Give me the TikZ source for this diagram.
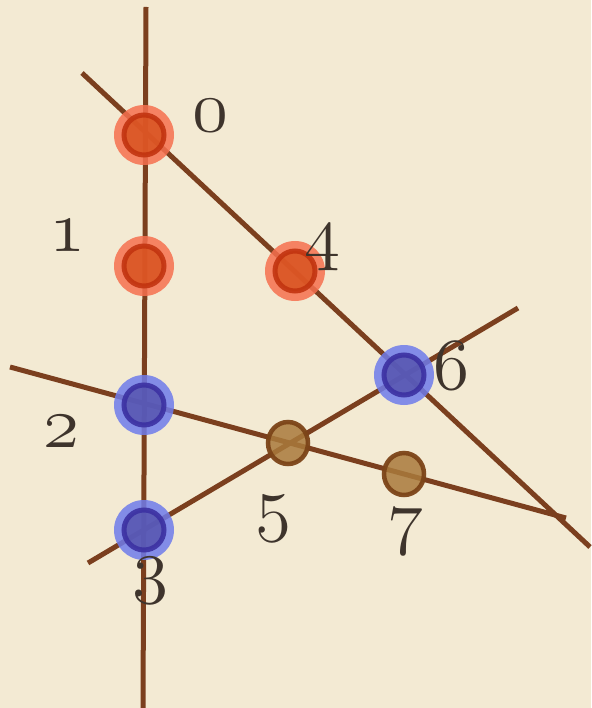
\documentclass[tikz,border=0pt]{standalone}
\usetikzlibrary{shapes.geometric}
\definecolor{paper}{HTML}{F3EAD3}
\definecolor{line}{HTML}{7B3F1E}
\definecolor{ink}{HTML}{3E342C}
\definecolor{redhalo}{HTML}{F6704F}
\definecolor{redfill}{HTML}{D6501C}
\definecolor{redring}{HTML}{C23410}
\definecolor{bluehalo}{HTML}{6F7CEB}
\definecolor{bluefill}{HTML}{5452AC}
\definecolor{bluering}{HTML}{3C31A2}
\definecolor{brownfill}{HTML}{A97A3C}
\definecolor{brownring}{HTML}{7C4418}
\newcommand{\osnum}[1]{\scalebox{2.95}{\fontsize{24.88}{25}\usefont{OML}{cmm}{m}{it}#1}}
\tikzset{
  ln/.style={draw=line, line width=5pt},
  halo/.style={circle, minimum size=60pt, inner sep=0pt, fill opacity=0.85},
  core/.style={circle, minimum size=40pt, inner sep=0pt, line width=5pt, fill opacity=0.8, draw opacity=0.9},
  brownpt/.style={ellipse, minimum width=40pt, minimum height=42pt, inner sep=0pt, draw=brownring, fill=brownfill, line width=4.5pt, fill opacity=0.85, draw opacity=0.95},
  lab/.style={text=ink, inner sep=0pt, anchor=center}
}
\begin{document}
\begin{tikzpicture}[x=1pt,y=-1pt]
\fill[paper] (0,0) rectangle (591,708);
\useasboundingbox (0,0) rectangle (591,708);
% line end points
\coordinate (v1) at (146,7);
\coordinate (v2) at (143,708);
\coordinate (d1) at (82,73);
\coordinate (d2) at (590,547);
\coordinate (h1) at (10,367);
\coordinate (h2) at (566,518);
\coordinate (u1) at (88,563);
\coordinate (u2) at (518,308);
\draw[ln] (v1) -- (v2);
\draw[ln] (d1) -- (d2);
\draw[ln] (h1) -- (h2);
\draw[ln] (u1) -- (u2);
% red points
\foreach \n/\p in {p0/{(144,135)}, p1/{(144,266)}, p4/{(295,271)}}{
  \node[halo, fill=redhalo] at \p {};
  \node[core, fill=redfill, draw=redring] (\n) at \p {};
}
% blue points
\foreach \n/\p in {p2/{(144,405)}, p3/{(144,530)}, p6/{(404,375)}}{
  \node[halo, fill=bluehalo] at \p {};
  \node[core, fill=bluefill, draw=bluering] (\n) at \p {};
}
% brown points
\node[brownpt] (p5) at (288,443) {};
\node[brownpt] (p7) at (404,474) {};
% labels
\node[lab] (l0) at (210,116) {\osnum{0}};
\node[lab] (l1) at (67,236) {\osnum{1}};
\node[lab] (l2) at (61,432) {\osnum{2}};
\node[lab] (l3) at (150,581) {\osnum{3}};
\node[lab] (l4) at (322,248) {\osnum{4}};
\node[lab] (l5) at (273,519) {\osnum{5}};
\node[lab] (l6) at (451,366) {\osnum{6}};
\node[lab] (l7) at (405,532) {\osnum{7}};
\end{tikzpicture}
\end{document}
